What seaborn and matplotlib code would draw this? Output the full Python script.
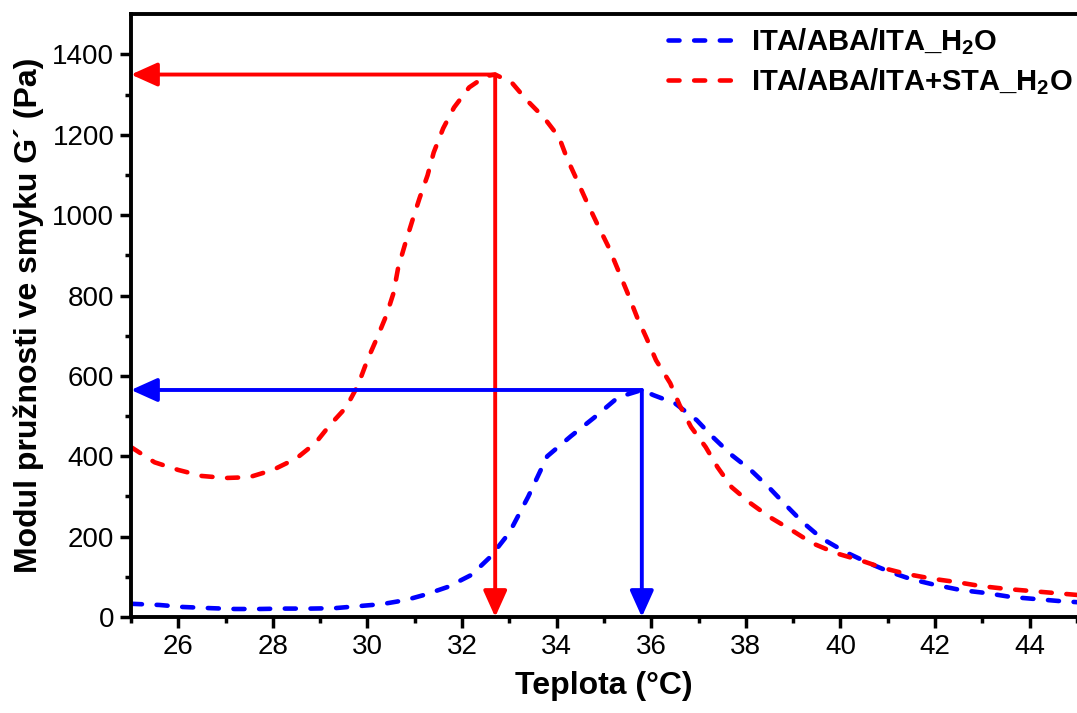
import pandas as pd
import matplotlib
matplotlib.use("Agg")
import matplotlib.pyplot as plt
import seaborn as sns

# data
teplota_blue = [25.0, 25.6, 26.1, 26.7, 27.2, 27.7, 28.2, 28.8, 29.3, 29.8, 30.3, 30.8,
                31.2, 31.7, 32.2, 32.6, 33.0, 33.4, 33.8, 34.3, 34.8, 35.3, 35.8, 36.05,
                36.5, 36.96, 37.3, 37.7, 38.1, 38.5, 38.84, 39.2, 39.6, 40.1, 40.6, 41.05,
                41.5, 42.0, 42.55, 43.06, 43.6, 44.1, 44.6, 45.0]
g_blue = [33, 30, 25, 22, 20, 20, 21, 21, 22, 27, 32, 42,
          55, 75, 105, 150, 210, 300, 400, 450, 497, 547, 565, 552,
          532, 490, 448, 403, 366, 321, 279, 236, 196, 162, 134, 112,
          94, 80, 67, 60, 50, 45, 40, 37]

teplota_red = [25.0, 25.5, 26.0, 26.5, 27.0, 27.5, 28.0, 28.5, 28.9, 29.2, 29.55, 29.8,
               30.0, 30.2, 30.4, 30.55, 30.65, 30.8, 30.95, 31.1, 31.27, 31.4, 31.6, 31.83,
               32.15, 32.5, 32.7, 33.05, 33.37, 33.73, 34.05, 34.22, 34.43, 34.64, 34.85, 35.1,
               35.3, 35.5, 35.7, 35.9, 36.1, 36.4, 36.6, 36.84, 37.15, 37.4, 37.7, 38.1,
               38.5, 38.97, 39.4, 39.9, 40.45, 40.9, 41.4, 41.96, 42.45, 42.97, 43.5, 44.0,
               44.5, 45.0]
g_red = [423, 385, 366, 351, 346, 348, 366, 395, 433, 477, 522, 577,
         640, 694, 751, 806, 870, 930, 987, 1042, 1099, 1156, 1216, 1268,
         1318, 1346, 1350, 1330, 1286, 1243, 1194, 1141, 1087, 1032, 980, 920,
         863, 806, 746, 694, 639, 582, 527, 473, 423, 373, 323, 283,
         249, 216, 184, 159, 140, 122, 107, 95, 87, 77, 70, 65,
         60, 55]

labels = ["ITA/ABA/ITA_H$_2$O", "ITA/ABA/ITA+STA_H$_2$O"]
colors = ["#0000FF", "#FF0000"]

# peaks marked with arrows (x, G')
peak_blue = (35.8, 565)
peak_red = (32.7, 1350)

sns.set_style("ticks")
plt.rcParams['font.family'] = ['Liberation Sans', 'DejaVu Sans']
plt.rcParams['mathtext.fontset'] = 'custom'
plt.rcParams['mathtext.rm'] = 'Liberation Sans:bold'
plt.rcParams['mathtext.bf'] = 'Liberation Sans:bold'
plt.rcParams['mathtext.it'] = 'Liberation Sans:bold:italic'
plt.rcParams['mathtext.default'] = 'rm'
for k in ['text.color', 'axes.labelcolor', 'xtick.color', 'ytick.color', 'axes.edgecolor']:
    plt.rcParams[k] = 'black'

fig = plt.figure(figsize=(10.77, 7.13), dpi=100)
ax = fig.add_axes([0.1216, 0.1346, 0.8784, 0.8454])

for tx, g, lab, c in [(teplota_blue, g_blue, labels[0], colors[0]),
                      (teplota_red, g_red, labels[1], colors[1])]:
    sns.lineplot(x=tx, y=g, color=c, lw=3.3, label=lab, ax=ax,
                 dash_capstyle='round')
    ax.lines[-1].set_dashes((2.4, 3.2))

# arrows from the peaks to the axes
for (px, py), c in [(peak_red, colors[1]), (peak_blue, colors[0])]:
    style = '-|>,head_length=1.6,head_width=0.72'
    ax.annotate('', xy=(25, py), xytext=(px, py),
                arrowprops=dict(arrowstyle=style, color=c, lw=2.8,
                                mutation_scale=10, shrinkA=0, shrinkB=0))
    ax.annotate('', xy=(px, 0), xytext=(px, py),
                arrowprops=dict(arrowstyle=style, color=c, lw=2.8,
                                mutation_scale=10, shrinkA=0, shrinkB=0))

ax.set_xlim(25, 45)
ax.set_ylim(0, 1500)
ax.set_xticks(range(26, 45, 2))
ax.set_yticks(range(0, 1401, 200))
ax.set_xticks(range(25, 46, 2), minor=True)
ax.set_yticks(range(100, 1500, 200), minor=True)

ax.tick_params(which='major', direction='out', length=8, width=2.5, labelsize=20, pad=4)
ax.tick_params(which='minor', direction='out', length=4.5, width=2.5)
for s in ['left', 'bottom', 'top']:
    ax.spines[s].set_linewidth(2.8)
ax.spines['right'].set_visible(False)

ax.set_xlabel("Teplota (°C)", fontsize=23, fontweight='bold', labelpad=8)
ax.set_ylabel("Modul pružnosti ve smyku G´ (Pa)", fontsize=23, fontweight='bold', labelpad=6)

leg = ax.legend(loc='upper right', bbox_to_anchor=(1.0, 0.987), frameon=False,
                prop={'size': 21, 'weight': 'bold'}, handlelength=2.2,
                handletextpad=0.65, labelspacing=0.3, borderaxespad=0.05,
                borderpad=0.1)

fig.savefig("out.png", dpi=100)
